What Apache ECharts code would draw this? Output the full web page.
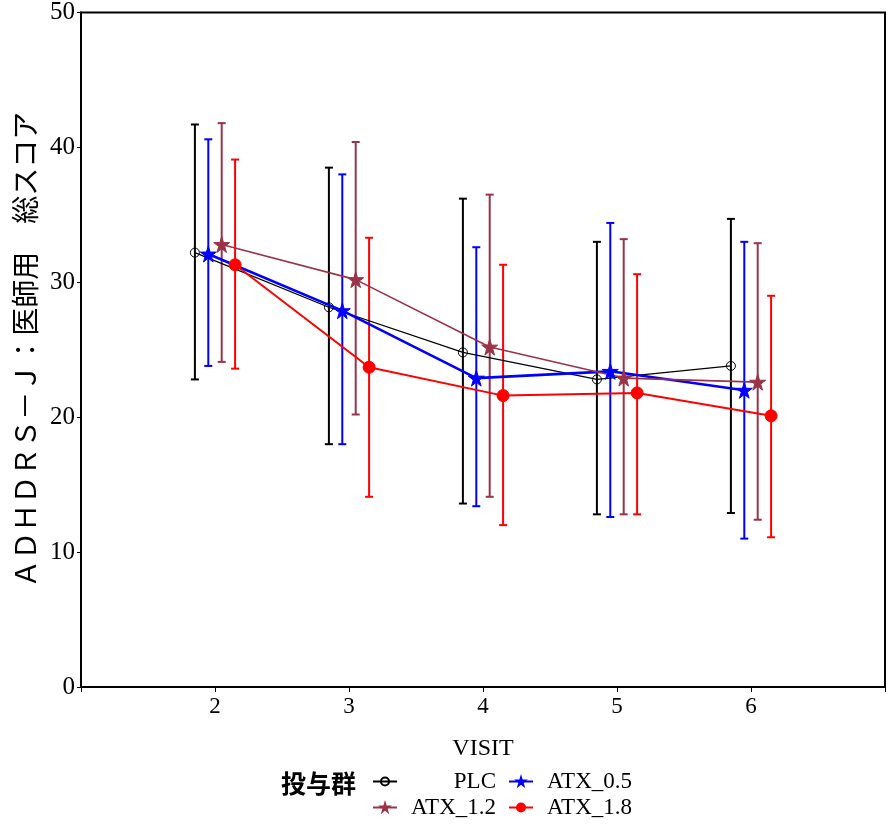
<!DOCTYPE html>
<html>
<head>
<meta charset="utf-8">
<script src="https://cdn.jsdelivr.net/npm/echarts@6/dist/echarts.min.js"></script>
<style>
  html, body { margin: 0; padding: 0; background: #fff; }
  #chart { width: 888px; height: 829px; }
</style>
</head>
<body>
<div id="chart"></div>
<script>
// 来院ごとの平均値と誤差範囲
var visits = [2, 3, 4, 5, 6];
var groupNames = ["PLC", "ATX_0.5", "ATX_1.2", "ATX_1.8"];

var plcMean = [32.2, 28.15, 24.8, 22.8, 23.8];
var plcLo = [22.8, 18.0, 13.6, 12.8, 12.9];
var plcHi = [41.7, 38.5, 36.2, 33.0, 34.7];

var atx05Mean = [32.1, 27.9, 22.9, 23.4, 22.0];
var atx05Lo = [23.8, 18.0, 13.4, 12.6, 11.0];
var atx05Hi = [40.6, 38.0, 32.6, 34.4, 33.0];

var atx12Mean = [32.8, 30.2, 25.2, 22.9, 22.6];
var atx12Lo = [24.1, 20.2, 14.1, 12.8, 12.4];
var atx12Hi = [41.8, 40.4, 36.5, 33.2, 32.9];

var atx18Mean = [31.3, 23.7, 21.6, 21.8, 20.1];
var atx18Lo = [23.6, 14.1, 12.0, 12.8, 11.1];
var atx18Hi = [39.1, 33.3, 31.3, 30.6, 29.0];

var yTicks = [0, 10, 20, 30, 40, 50];

var latinFont = "'Liberation Serif', 'DejaVu Serif', serif";
var cjkFont = "'Noto Sans CJK JP', sans-serif";
var star = "path://M50,0 L61,35 L98,35 L68,57 L79,92 L50,70 L21,92 L32,57 L2,35 L39,35 Z";

var groups = [
  { name: groupNames[0], mean: plcMean, lo: plcLo, hi: plcHi, shift: -0.15, color: "#000000",
    symbol: "circle", size: 9, width: 1.3, fill: "rgba(0,0,0,0)" },
  { name: groupNames[1], mean: atx05Mean, lo: atx05Lo, hi: atx05Hi, shift: -0.05, color: "#0000ff",
    symbol: star, size: 16, width: 2.6 },
  { name: groupNames[2], mean: atx12Mean, lo: atx12Lo, hi: atx12Hi, shift: 0.05, color: "#993348",
    symbol: star, size: 16, width: 1.6 },
  { name: groupNames[3], mean: atx18Mean, lo: atx18Lo, hi: atx18Hi, shift: 0.15, color: "#ff0000",
    symbol: "circle", size: 12, width: 2 }
];

var chart = echarts.init(document.getElementById("chart"));
var series = [];

// 誤差棒
groups.forEach(function (g) {
  series.push({
    type: "custom",
    name: g.name + "_bar",
    silent: true,
    z: 1,
    color: g.color,
    data: visits.map(function (v, i) { return [v + g.shift, g.lo[i], g.hi[i]]; }),
    renderItem: function (params, api) {
      var top = api.coord([api.value(0), api.value(2)]);
      var bot = api.coord([api.value(0), api.value(1)]);
      var cap = 4;
      var st = { stroke: g.color, lineWidth: 2 };
      return {
        type: "group",
        children: [
          { type: "line", shape: { x1: top[0], y1: top[1], x2: bot[0], y2: bot[1] }, style: st },
          { type: "line", shape: { x1: top[0] - cap, y1: top[1], x2: top[0] + cap, y2: top[1] }, style: st },
          { type: "line", shape: { x1: bot[0] - cap, y1: bot[1], x2: bot[0] + cap, y2: bot[1] }, style: st }
        ]
      };
    }
  });
});

// 平均値の折れ線
groups.forEach(function (g) {
  series.push({
    type: "line",
    name: g.name,
    z: 3,
    data: visits.map(function (v, i) { return [v + g.shift, g.mean[i]]; }),
    symbol: g.symbol,
    symbolSize: g.size,
    showAllSymbol: true,
    color: g.color,
    lineStyle: { color: g.color, width: g.width },
    itemStyle: { color: g.fill || g.color, borderColor: g.color, borderWidth: 1 }
  });
});

// 凡例（2行）
function legendRow(names, top) {
  return {
    data: names,
    left: 372,
    top: top,
    itemWidth: 24,
    itemHeight: 10,
    itemGap: 12,
    padding: 0,
    formatter: function (n) { return "{t|" + n + "}"; },
    textStyle: {
      color: "#000",
      rich: {
        t: { width: 94, align: "right", fontFamily: latinFont, fontSize: 23, color: "#000" }
      }
    }
  };
}

var option = {
  backgroundColor: "#fff",
  animation: false,
  title: {
    text: "投与群",
    left: 276,
    top: 766,
    textStyle: { fontFamily: cjkFont, fontSize: 25, fontWeight: "bold", color: "#000" }
  },
  legend: [
    legendRow([groupNames[0], groupNames[1]], 770),
    legendRow([groupNames[2], groupNames[3]], 796)
  ],
  grid: { left: 81, top: 12, right: -4, bottom: 142, show: true, borderColor: "#000", borderWidth: 2 },
  xAxis: {
    type: "value",
    min: 1,
    max: 7,
    interval: 1,
    name: "VISIT",
    nameLocation: "middle",
    nameGap: 50,
    nameTextStyle: { fontFamily: latinFont, fontSize: 24, color: "#000" },
    axisLine: { show: true, lineStyle: { color: "#000", width: 2 } },
    axisTick: { show: true, length: 5, lineStyle: { color: "#000" } },
    splitLine: { show: false },
    axisLabel: {
      margin: 8,
      fontFamily: latinFont,
      fontSize: 23,
      color: "#000",
      formatter: function (v) { return visits.indexOf(v) >= 0 ? String(v) : ""; }
    }
  },
  yAxis: {
    type: "value",
    min: yTicks[0],
    max: yTicks[yTicks.length - 1],
    interval: 10,
    name: "ＡＤＨＤＲＳ－Ｊ：医師用　総スコア",
    nameLocation: "middle",
    nameGap: 40,
    nameTextStyle: { fontFamily: cjkFont, fontSize: 28, color: "#000" },
    axisLine: { show: true, lineStyle: { color: "#000", width: 2 } },
    axisTick: { show: true, length: 4, lineStyle: { color: "#000" } },
    splitLine: { show: false },
    axisLabel: { margin: 6, fontFamily: latinFont, fontSize: 25, color: "#000" }
  },
  series: series
};

chart.setOption(option);
</script>
</body>
</html>
